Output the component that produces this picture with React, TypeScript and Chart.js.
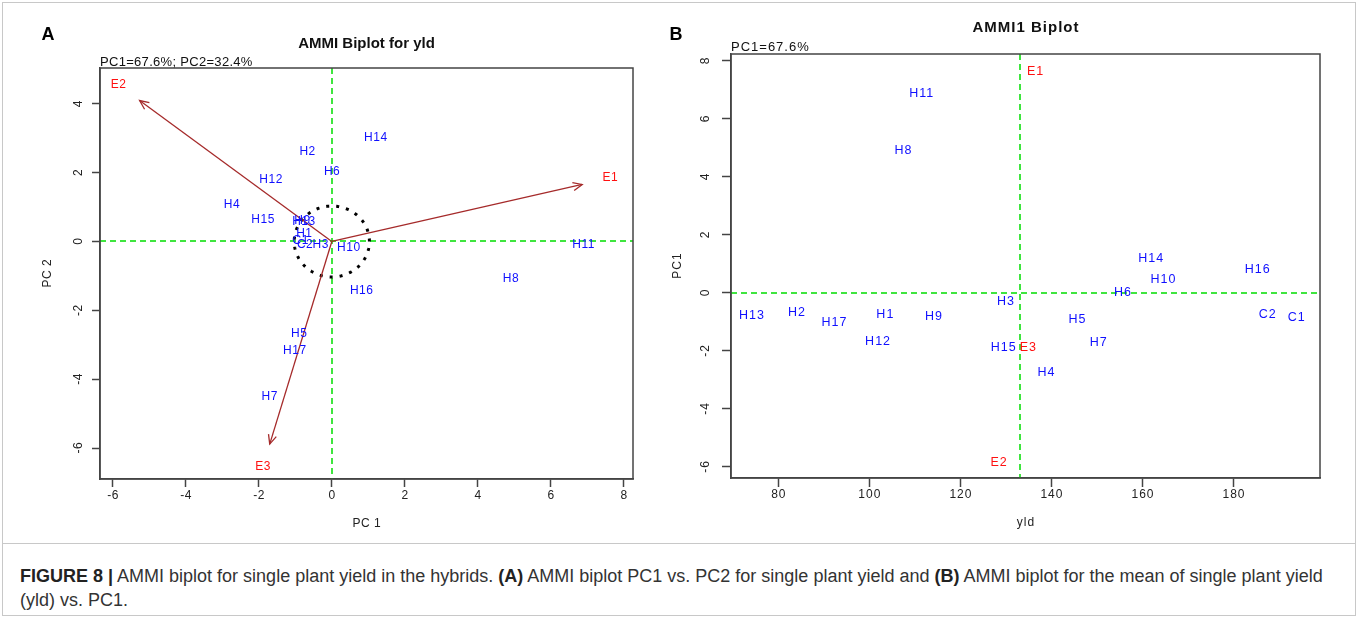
import React, { useEffect, useRef } from "react";
import { Chart, registerables } from "chart.js";
Chart.register(...registerables);

// ---------- data ----------
const genotypes = ["H1", "H2", "H3", "H4", "H5", "H6", "H7", "H8", "H9", "H10", "H11", "H12", "H13", "H14", "H15", "H16", "H17", "C1", "C2"];
const genoPC1 = [-0.76, -0.67, -0.31, -2.74, -0.9, 0.0, -1.71, 4.9, -0.81, 0.46, 6.89, -1.67, -0.77, 1.2, -1.89, 0.81, -1.02, -0.86, -0.74];
const genoPC2 = [0.24, 2.62, -0.1, 1.06, -2.69, 2.03, -4.52, -1.09, 0.6, -0.19, -0.08, 1.79, 0.58, 3.03, 0.63, -1.43, -3.18, 0.03, -0.1];
const genoYld = [103.4, 84.0, 129.9, 138.8, 145.6, 155.6, 150.3, 107.4, 114.1, 164.5, 111.4, 101.8, 74.1, 161.8, 129.4, 185.2, 92.2, 193.8, 187.4];

const environments = ["E1", "E2", "E3"];
const envPC1 = [7.62, -5.85, -1.89];
const envPC2 = [1.84, 4.55, -6.54];
const envYld = [136.4, 128.4, 134.8];

const xTicksA = [-6, -4, -2, 0, 2, 4, 6, 8];
const yTicksA = [-6, -4, -2, 0, 2, 4];
const xTicksB = [80, 100, 120, 140, 160, 180];
const yTicksB = [-6, -4, -2, 0, 2, 4, 6, 8];

const arrowScale = 0.9;
const circleRadius = 1.03;
const grandMean = envYld.reduce((s, v) => s + v, 0) / envYld.length;

const FONT = '"Liberation Sans", Arial, sans-serif';
const BLUE = "#1010ff";
const RED = "#ff1010";
const BROWN = "#a52a2a";
const GREEN = "#00dd00";
const AXIS = "#444";

function txt(ctx: any, s: string, x: number, y: number, font: string, color: string, ls = 0, align = "center", rot = 0) {
  ctx.save();
  ctx.font = font;
  ctx.fillStyle = color;
  ctx.textAlign = align;
  ctx.textBaseline = "middle";
  ctx.letterSpacing = ls + "px";
  ctx.translate(x, y);
  if (rot) ctx.rotate(rot);
  const dx = align === "center" ? ls / 2 : 0;
  ctx.fillText(s, dx, 0);
  ctx.restore();
}

type Overlay = {
  panel: string; panelX: number;
  title: string; titleY: number; titleLS: number;
  sub: string; subY: number; subLS: number;
  xTitle: string; yTitle: string;
  xTicks: number[]; yTicks: number[];
  ls: number; labelSize: number;
  vLine: number; hLine: number;
  circle: number;
  yTickOff: number; yTitleOff: number;
};

function makeOverlay(o: Overlay) {
  return {
    id: "overlay",
    beforeDatasetsDraw(chart: any) {
      const { ctx, chartArea: a, scales } = chart;
      const x = scales.x, y = scales.y;
      ctx.save();
      ctx.strokeStyle = GREEN;
      ctx.lineWidth = 1.5;
      ctx.setLineDash([6, 4]);
      const vx = Math.round(x.getPixelForValue(o.vLine));
      ctx.beginPath(); ctx.moveTo(vx, a.top); ctx.lineTo(vx, a.bottom); ctx.stroke();
      const hy = Math.round(y.getPixelForValue(o.hLine));
      ctx.beginPath(); ctx.moveTo(a.left, hy); ctx.lineTo(a.right, hy); ctx.stroke();
      if (o.circle > 0) {
        ctx.strokeStyle = "#000";
        ctx.lineWidth = 3;
        ctx.setLineDash([3, 7]);
        ctx.beginPath();
        for (let i = 0; i <= 240; i++) {
          const t = (i / 240) * 2 * Math.PI;
          const px = x.getPixelForValue(o.circle * Math.cos(t));
          const py = y.getPixelForValue(o.circle * Math.sin(t));
          if (i) ctx.lineTo(px, py); else ctx.moveTo(px, py);
        }
        ctx.stroke();
      }
      ctx.restore();
    },
    afterDatasetsDraw(chart: any) {
      const { ctx, chartArea: a, scales } = chart;
      const x = scales.x, y = scales.y;
      chart.data.datasets.forEach((ds: any, di: number) => {
        const meta = chart.getDatasetMeta(di);
        if (ds.isArrow) {
          const p0 = meta.data[0], p1 = meta.data[1];
          const ang = Math.atan2(p1.y - p0.y, p1.x - p0.x);
          const L = 10, h = (24 * Math.PI) / 180;
          ctx.save();
          ctx.strokeStyle = BROWN; ctx.lineWidth = 1.3;
          ctx.beginPath();
          ctx.moveTo(p1.x - L * Math.cos(ang - h), p1.y - L * Math.sin(ang - h));
          ctx.lineTo(p1.x, p1.y);
          ctx.lineTo(p1.x - L * Math.cos(ang + h), p1.y - L * Math.sin(ang + h));
          ctx.stroke();
          ctx.restore();
        }
        if (ds.texts) {
          meta.data.forEach((el: any, i: number) => {
            txt(ctx, ds.texts[i], el.x, el.y, `${o.labelSize}px ${FONT}`, ds.textColor, o.ls);
          });
        }
      });
      ctx.save();
      ctx.strokeStyle = AXIS; ctx.lineWidth = 1.5;
      ctx.strokeRect(a.left, a.top, a.right - a.left, a.bottom - a.top);
      ctx.restore();
      o.xTicks.forEach((v) => txt(ctx, String(v), x.getPixelForValue(v), a.bottom + 17, `12px ${FONT}`, "#222", o.ls));
      o.yTicks.forEach((v) => txt(ctx, String(v), a.left - o.yTickOff, y.getPixelForValue(v), `12px ${FONT}`, "#222", o.ls, "center", -Math.PI / 2));
      txt(ctx, o.xTitle, (a.left + a.right) / 2, a.bottom + 45, `12px ${FONT}`, "#222", o.ls);
      txt(ctx, o.yTitle, a.left - o.yTitleOff, (a.top + a.bottom) / 2, `12px ${FONT}`, "#222", o.ls, "center", -Math.PI / 2);
      txt(ctx, o.title, (a.left + a.right) / 2, o.titleY, `bold 15px ${FONT}`, "#111", o.titleLS);
      txt(ctx, o.sub, a.left, o.subY, `13px ${FONT}`, "#111", o.subLS, "left");
      txt(ctx, o.panel, o.panelX, 35, `bold 18px ${FONT}`, "#000", 0);
    },
  };
}

function makeScales(xmin: number, xmax: number, ymin: number, ymax: number, xt: number[], yt: number[], yWidth: number, xHeight: number, tl: number) {
  const grid = { display: true, drawOnChartArea: false, drawTicks: true, tickLength: tl, tickColor: AXIS, tickWidth: 1.5 };
  return {
    x: {
      type: "linear", min: xmin, max: xmax,
      afterBuildTicks: (s: any) => { s.ticks = xt.map((v) => ({ value: v })); },
      afterFit: (s: any) => { s.height = xHeight; },
      ticks: { display: false },
      grid, border: { display: true, color: AXIS, width: 1.5 },
    },
    y: {
      type: "linear", min: ymin, max: ymax,
      afterBuildTicks: (s: any) => { s.ticks = yt.map((v) => ({ value: v })); },
      afterFit: (s: any) => { s.width = yWidth; },
      ticks: { display: false },
      grid, border: { display: true, color: AXIS, width: 1.5 },
    },
  };
}

function arrowSets() {
  return environments.map((_, i) => ({
    isArrow: true,
    data: [{ x: 0, y: 0 }, { x: arrowScale * envPC1[i], y: arrowScale * envPC2[i] }],
    showLine: true,
    borderColor: BROWN,
    borderWidth: 1.3,
    pointRadius: 0,
    fill: false,
  }));
}

export default function App() {
  const refA = useRef<HTMLCanvasElement>(null);
  const refB = useRef<HTMLCanvasElement>(null);

  useEffect(() => {
    document.body.style.margin = "0";
    const chartA = new Chart(refA.current as HTMLCanvasElement, {
      type: "scatter",
      data: {
        datasets: [
          ...arrowSets(),
          { texts: genotypes, textColor: BLUE, data: genotypes.map((_, i) => ({ x: genoPC1[i], y: genoPC2[i] })), pointRadius: 0 } as any,
          { texts: environments, textColor: RED, data: environments.map((_, i) => ({ x: envPC1[i], y: envPC2[i] })), pointRadius: 0 } as any,
        ],
      },
      options: {
        responsive: false,
        animation: false,
        layout: { padding: { left: 0, right: 17, top: 68, bottom: 0 } },
        plugins: { legend: { display: false }, tooltip: { enabled: false } },
        scales: makeScales(-6.35, 8.25, -6.9, 5.04, xTicksA, yTicksA, 100, 545 - 479, 8) as any,
      },
      plugins: [makeOverlay({
        panel: "A", panelX: 48,
        title: "AMMI Biplot for yld", titleY: 44, titleLS: 0,
        sub: "PC1=67.6%; PC2=32.4%", subY: 62, subLS: 0.3,
        xTitle: "PC 1", yTitle: "PC 2",
        xTicks: xTicksA, yTicks: yTicksA,
        ls: 0.5, labelSize: 12,
        vLine: 0, hLine: 0, circle: circleRadius,
        yTickOff: 21, yTitleOff: 52,
      })],
    });

    const chartB = new Chart(refB.current as HTMLCanvasElement, {
      type: "scatter",
      data: {
        datasets: [
          { texts: genotypes, textColor: BLUE, data: genotypes.map((_, i) => ({ x: genoYld[i], y: genoPC1[i] })), pointRadius: 0 } as any,
          { texts: environments, textColor: RED, data: environments.map((_, i) => ({ x: envYld[i], y: envPC1[i] })), pointRadius: 0 } as any,
        ],
      },
      options: {
        responsive: false,
        animation: false,
        layout: { padding: { left: 0, right: 40, top: 54, bottom: 0 } },
        plugins: { legend: { display: false }, tooltip: { enabled: false } },
        scales: makeScales(69.6, 199, -6.38, 8.24, xTicksB, yTicksB, 81, 545 - 478, 9) as any,
      },
      plugins: [makeOverlay({
        panel: "B", panelX: 26,
        title: "AMMI1 Biplot", titleY: 28, titleLS: 1,
        sub: "PC1=67.6%", subY: 47, subLS: 1,
        xTitle: "yld", yTitle: "PC1",
        xTicks: xTicksB, yTicks: yTicksB,
        ls: 1, labelSize: 12.5,
        vLine: grandMean, hLine: 0, circle: 0,
        yTickOff: 25, yTitleOff: 53,
      })],
    });
    return () => { chartA.destroy(); chartB.destroy(); };
  }, []);

  const cap: React.CSSProperties = { position: "absolute", left: 20, fontFamily: FONT, fontSize: 18, color: "#333", whiteSpace: "nowrap", lineHeight: "22px" };
  return (
    <div style={{ position: "fixed", left: 0, top: 0, width: 1360, height: 620, background: "#fff", overflow: "hidden" }}>
      <div style={{ position: "absolute", left: 2, top: 2, width: 1354, height: 614, border: "1px solid #c8c8c8", boxSizing: "border-box" }} />
      <div style={{ position: "absolute", left: 2, top: 543, width: 1354, height: 0, borderTop: "1px solid #c8c8c8" }} />
      <canvas ref={refA} width={650} height={545} style={{ position: "absolute", left: 0, top: 0 }} />
      <canvas ref={refB} width={710} height={545} style={{ position: "absolute", left: 650, top: 0 }} />
      <div style={{ ...cap, top: 565 }}>
        <b style={{ color: "#222" }}>FIGURE 8 |</b> AMMI biplot for single plant yield in the hybrids. <b style={{ color: "#222" }}>(A)</b> AMMI biplot PC1 vs. PC2 for single plant yield and <b style={{ color: "#222" }}>(B)</b> AMMI biplot for the mean of single plant yield
      </div>
      <div style={{ ...cap, top: 589 }}>(yld) vs. PC1.</div>
    </div>
  );
}
